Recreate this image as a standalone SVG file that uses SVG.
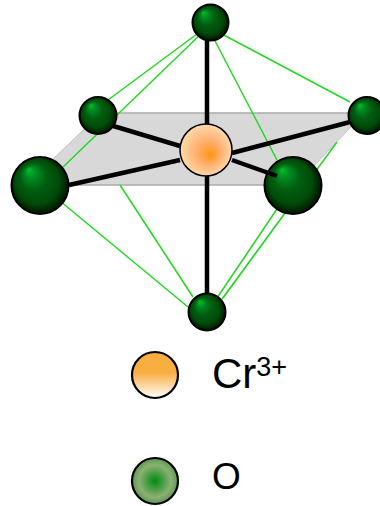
<svg xmlns="http://www.w3.org/2000/svg" width="380" height="506" viewBox="0 0 380 506">
<style>
.g{stroke:#22d822;stroke-width:1.5;fill:none}
.b{stroke:#000;stroke-width:4.5;fill:none}
.s{fill:url(#o);stroke:#000;stroke-width:2}
text{font-family:"Liberation Sans",Arial,sans-serif;fill:#000}
</style>
<defs>
<radialGradient id="o" cx="0.5" cy="0.5" r="0.52" fx="0.3" fy="0.22">
<stop offset="0" stop-color="#00c02c"/><stop offset="0.2" stop-color="#008a20"/><stop offset="0.45" stop-color="#005e10"/><stop offset="0.75" stop-color="#004a08"/><stop offset="1" stop-color="#000f00"/>
</radialGradient>
<radialGradient id="c" cx="0.5" cy="0.5" r="0.52" fx="0.6" fy="0.6">
<stop offset="0" stop-color="#ff9410"/><stop offset="0.45" stop-color="#ffb070"/><stop offset="1" stop-color="#ffdcae"/>
</radialGradient>
<linearGradient id="lc" x1="0" y1="0" x2="0" y2="1">
<stop offset="0" stop-color="#f9ae42"/><stop offset="0.45" stop-color="#f9ae42"/><stop offset="1" stop-color="#fff"/>
</linearGradient>
<radialGradient id="lo" cx="0.5" cy="0.5" r="0.5">
<stop offset="0" stop-color="#008a10"/><stop offset="0.7" stop-color="#8cb074"/><stop offset="1" stop-color="#5a9a50"/>
</radialGradient>
</defs>
<g id="plane">
<polygon points="101,113 364,113 296,185 26,185" fill="#d8d8d8"/>
<path d="M101,113H364M26,185H296" stroke="#aaa" stroke-width="1.5" fill="none"/>
<path d="M364,113L296,185M101,113L26,185" stroke="#c4c4c4" stroke-width="1" fill="none"/>
</g>
<g id="connectors">
<path class="g" d="M205,28L108,100M203,32L62,168M220,33L350,102M213,37L277,160M337,142L223,298M277,209L217,298M60,201L188,307M120,185L193,297M285,213L222,299"/>
<path class="b" d="M207,40V125M207,175V295M110,125L180,146M350,122L232,153M69,185L180,160"/>
</g>
<g id="atom-top"><circle class="s" cx="210.5" cy="22.5" r="18"/></g>
<g id="atom-upper-left"><circle class="s" cx="98" cy="115.5" r="18.5"/></g>
<g id="atom-upper-right"><circle class="s" cx="367" cy="115.5" r="18.5"/></g>
<g id="atom-left"><circle class="s" cx="40" cy="185.5" r="28.5"/></g>
<g id="atom-right"><circle class="s" cx="293" cy="185.5" r="28.5"/></g>
<g id="atom-bottom"><circle class="s" cx="207" cy="312" r="18.5"/></g>
<g id="bond-right"><path class="b" d="M232,160L277,176"/></g>
<g id="atom-center"><circle cx="206" cy="150" r="26" fill="url(#c)" stroke="#000" stroke-width="1.5"/></g>
<g id="legend-cr">
<circle cx="155" cy="375" r="23" fill="url(#lc)" stroke="#000" stroke-width="2.2"/>
<text x="212" y="388" font-size="42">Cr<tspan font-size="27" dy="-12">3+</tspan></text>
</g>
<g id="legend-o">
<circle cx="155" cy="481" r="23" fill="url(#lo)" stroke="#000" stroke-width="2.2"/>
<text x="212" y="489" font-size="37">O</text>
</g>
</svg>
